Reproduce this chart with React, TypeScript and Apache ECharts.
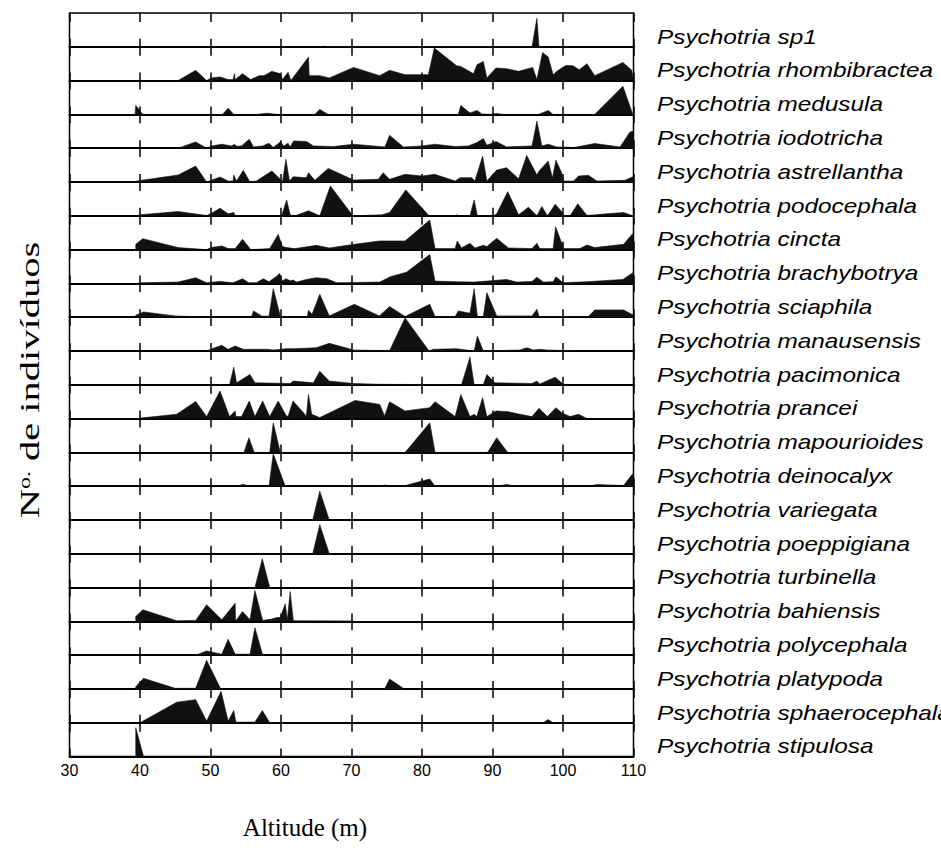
import React, { useEffect, useRef } from "react";
import * as echarts from "echarts";

// Altitude (m) vs number of individuals (relative silhouette height) per species
const species = [
  "Psychotria sp1",
  "Psychotria rhombibractea",
  "Psychotria medusula",
  "Psychotria iodotricha",
  "Psychotria astrellantha",
  "Psychotria podocephala",
  "Psychotria cincta",
  "Psychotria brachybotrya",
  "Psychotria sciaphila",
  "Psychotria manausensis",
  "Psychotria pacimonica",
  "Psychotria prancei",
  "Psychotria mapourioides",
  "Psychotria deinocalyx",
  "Psychotria variegata",
  "Psychotria poeppigiana",
  "Psychotria turbinella",
  "Psychotria bahiensis",
  "Psychotria polycephala",
  "Psychotria platypoda",
  "Psychotria sphaerocephala",
  "Psychotria stipulosa",
];

const xTicks = [30, 40, 50, 60, 70, 80, 90, 100, 110];

const sp1 = [[65.5, 0], [66.2, 0.6], [67, 0], [95.6, 0], [96.3, 28.7], [96.6, 0]];
const rhombibractea = [[45.4, 0], [47.9, 10.3], [49.45, 0], [50.1, 2.7], [51.35, 3.7], [52.5, 1], [53.2, 1], [53.4, 7], [53.5, 1], [54.55, 7], [55.7, 1], [56.9, 5], [57.6, 5], [58.7, 9.3], [59.9, 7], [60.2, 1], [61, 8.3], [61.4, 0], [63.9, 23.7], [64.0, 5], [65.5, 5], [66.85, 2.7], [70.3, 13.3], [74.0, 5], [75.4, 10.3], [77.6, 6], [80.9, 6], [81.75, 32.7], [84.9, 15], [85.5, 14.3], [87.3, 7], [87.8, 16], [88.7, 19.3], [89.2, 2.7], [90.5, 12.7], [92, 12], [93.7, 9.3], [95.7, 13.3], [96.3, 1], [97.1, 28.3], [97.9, 23.7], [98.6, 6], [99.3, 10.3], [100.4, 15.3], [101.4, 15], [102.3, 11], [103.4, 17], [104.5, 5], [108.5, 18.3], [109.75, 10.3], [110, 0]];
const medusula = [[39.3, 0], [39.4, 9], [40.4, 0], [51.7, 0], [52.5, 6.3], [53.3, 0], [56.5, 0], [58, 1.2], [59.5, 0], [64.8, 0], [65.5, 5], [66.7, 0], [85.15, 0], [85.5, 9], [86.8, 1.5], [87.8, 4], [88.5, 0.5], [89.5, 0], [90.5, 1], [91.5, 0], [96.5, 0], [97.9, 4], [98.6, 0], [104.5, 0], [108.5, 28.3], [109.9, 0]];
const iodotricha = [[45.4, 0], [47.9, 6.3], [49.45, 0], [50.2, 2.3], [51.6, 4], [53, 2.3], [53.4, 4], [53.7, 2], [54.4, 2.3], [55.5, 9], [56.1, 1.3], [57.4, 2.3], [58.3, 5], [58.9, 0.7], [59.9, 6.3], [60.4, 2.3], [61, 5], [61.3, 1.3], [61.8, 7.3], [63.6, 6.7], [64.6, 2.3], [67.4, 1.7], [70.3, 4], [73.1, 2.3], [74.75, 1.3], [75.4, 13], [77.35, 1.3], [80, 2.3], [81.8, 4], [84.7, 1.7], [86.6, 2.3], [87.8, 5.7], [88.7, 9.7], [89.2, 3], [90.5, 6.7], [92, 1.3], [95.6, 2.3], [96.3, 27.3], [97, 2.3], [97.9, 4], [99.1, 1.3], [101.5, 0.7], [104.5, 4.7], [108.1, 1.3], [109.5, 16.3], [110, 17]];
const astrellantha = [[39.4, 0], [39.5, 1], [45.4, 7], [47.9, 16], [49.45, 0], [51.35, 5], [52.5, 1], [53.2, 1], [53.3, 7], [53.7, 1], [54.65, 11.7], [55.6, 0], [56.5, 1], [58.7, 11], [59.9, 2.7], [60.2, 0], [60.7, 22.7], [61.2, 1], [61.75, 5.3], [63.6, 4.3], [63.9, 9.3], [64.8, 1.7], [66.7, 13.7], [70.3, 2], [73.8, 2.7], [74.5, 9.3], [75.4, 2.7], [77.6, 7.7], [80, 6], [81.8, 7.7], [84.7, 1], [85.4, 4.3], [87.05, 4.3], [87.5, 1], [88.6, 26], [89.2, 1], [90.6, 12], [92, 14.3], [93.7, 3.3], [94.85, 26.7], [96.3, 7], [96.6, 11], [97.9, 21], [98.5, 4.3], [99, 22], [99.8, 9.3], [100.1, 1], [101.5, 1], [102.2, 6], [103.6, 6.7], [104.8, 1], [108.8, 1.7], [109.9, 5.3], [110, 5.3]];
const podocephala = [[39.4, 0], [40, 1], [45.4, 4.3], [49.45, 0.3], [50.2, 2.7], [51.35, 7.7], [52.5, 2], [53.3, 3.3], [53.5, 0], [60.1, 0], [60.8, 16], [61.3, 1], [62, 0], [63.9, 5], [65.5, 0], [67, 30], [70.2, 0], [74.3, 1], [75.4, 3.3], [77.7, 26], [81, 0], [84.7, 0], [84.9, 1], [85.3, 0], [86.8, 0], [87.4, 16], [87.85, 0], [90.1, 0], [90.6, 2], [92.15, 24.3], [93.7, 1], [95.1, 8.7], [96.3, 0], [97, 9.3], [97.8, 0], [98.9, 11.7], [99.8, 4.3], [100.05, 0], [101, 0], [102.1, 12], [103.4, 0.3], [106.2, 2], [108.6, 3.3], [109.9, 0]];
const cincta = [[39.4, 0], [39.4, 5.3], [40.4, 11], [45.4, 2], [49.45, 0], [50.07, 2], [51.6, 3.7], [52.5, 1], [53.5, 1], [54.55, 10.3], [55.7, 0], [58.4, 1], [59.6, 15.3], [60.2, 3], [60.8, 2], [62, 1], [65, 4.3], [66.85, 1.7], [70.4, 5.3], [74, 8.7], [77.6, 8.7], [81.1, 29.7], [81.85, 1], [84.7, 1], [85, 8.7], [85.6, 1.7], [86.8, 6.3], [87.5, 1.7], [88.7, 4.3], [89.2, 3], [90.6, 11.3], [92.25, 1.7], [95.6, 1], [96.3, 6.3], [96.7, 1], [98.6, 1], [98.95, 23], [100.1, 1], [102.4, 1], [103.4, 4.7], [104.5, 2], [108.6, 5.3], [109.9, 16.3], [110, 16.3]];
const brachybotrya = [[39.5, 0], [40, 0.7], [45.4, 1.3], [47.9, 5.7], [49.45, 0.7], [51.35, 2], [53.2, 0.7], [54.55, 4.7], [55.4, 0.7], [56.5, 0.7], [57.5, 4.7], [58.3, 1.7], [59.3, 6.7], [59.8, 10], [60.2, 2.3], [60.7, 4.7], [61.3, 2.7], [61.75, 3.3], [62.2, 1.3], [63.6, 4], [65, 5.7], [66.5, 4.7], [67.9, 0.7], [74, 1.3], [75.5, 6.7], [77.8, 11.3], [81.1, 29], [81.85, 2.3], [84.9, 1.7], [87.3, 1.3], [89.2, 2.3], [92, 4], [93.4, 1.3], [95.6, 2], [96.3, 6.3], [97.2, 1.3], [98.6, 1.7], [99, 6.7], [100, 0.7], [103.4, 1.7], [108.5, 4], [109.9, 10.7], [110, 10.7]];
const sciaphila = [[39.4, 0], [39.4, 2], [40.5, 5.3], [45, 1.3], [49.45, 0], [55.8, 0], [56.1, 6.3], [57.3, 1], [58.3, 1], [58.9, 28.7], [59.9, 1.3], [60.2, 0], [63.7, 0], [63.9, 7], [64.4, 3], [65.5, 23], [66.85, 1.3], [70.4, 13], [73.95, 1.3], [75.4, 10.7], [77.6, 0.7], [81.1, 13], [81.85, 0.7], [84.7, 0.7], [85.15, 6.3], [86.8, 4], [87.4, 28.7], [87.85, 0.7], [88.7, 0.7], [89.2, 24.7], [90.6, 1.3], [95.6, 1.3], [96.3, 8], [96.6, 0.7], [103.6, 0.7], [104.5, 7.3], [108.6, 7.3], [110, 2]];
const manausensis = [[49.45, 0], [50.2, 2.3], [51.6, 5.7], [52.5, 1.7], [53.5, 5], [54.65, 1.7], [58, 1.7], [58.9, 1], [60.8, 2.3], [61.75, 2.3], [65, 3.3], [66.85, 7.7], [70.3, 1], [75.4, 0.3], [77.6, 33.3], [81, 0], [81.6, 1.7], [84.9, 2.3], [87.4, 0], [87.85, 15], [88.7, 0], [93.9, 1], [94.85, 3.3], [95.8, 1], [96.7, 1.7], [97.7, 1], [101.5, 0.3]];
const pacimonica = [[52.7, 0], [53.3, 17.7], [53.7, 2], [55.6, 10.3], [56.3, 2], [61.3, 1.3], [61.75, 3.7], [64.6, 2], [65.5, 13.7], [66.85, 3.7], [70.3, 1.3], [74, 0.5], [85.6, 0], [86.8, 27.7], [87.4, 0], [88.7, 0], [89.2, 10.3], [90.35, 2], [95.6, 1.3], [96.3, 3.7], [96.7, 0.7], [98.9, 7.7], [100, 0.7]];
const prancei = [[40, 0.5], [45.2, 4.3], [47.9, 17.3], [49.45, 2], [51.35, 27.7], [52.7, 2], [53.5, 7.7], [53.6, 2], [54.4, 2], [55.5, 17.7], [56.3, 2], [57.4, 17.7], [58.4, 2], [59.6, 17.7], [60.7, 3.3], [61, 2], [61.7, 17.7], [63.6, 2.7], [63.9, 24.3], [64.35, 4.3], [65.5, 1], [70.5, 18.3], [74, 14.3], [74.7, 2.7], [75.4, 17], [77.6, 7.7], [81.1, 11], [81.85, 17], [84.7, 2], [85.5, 24.3], [86.8, 2], [87.4, 4.3], [87.76, 2], [88.6, 21], [89.2, 2], [90.5, 7.7], [92.25, 7], [93.9, 4.3], [95.6, 2], [96.6, 10.3], [97.8, 2], [99, 11], [99.8, 6], [101, 2], [102.2, 4.3], [103.4, 0]];
const mapourioides = [[54.75, 0], [55.45, 14.7], [56.2, 0], [58.4, 0], [58.9, 29.7], [59.9, 0], [77.6, 0], [81.1, 29.7], [81.85, 0], [89.3, 0], [90.6, 14.7], [92.15, 0]];
const deinocalyx = [[53.7, 0], [54.65, 2], [55.4, 0], [58.3, 0], [58.9, 32.7], [60.6, 0], [74, 0], [74.7, 1.3], [75.4, 0], [77.6, 0.7], [81.1, 7.3], [81.85, 0], [90.6, 0], [92, 1.7], [93.4, 0], [103.6, 0], [104.8, 1.7], [108.6, 0.7], [109.9, 12.7], [110, 12.7]];
const variegata = [[64.5, 0], [65.5, 29], [66.85, 0]];
const poeppigiana = [[64.5, 0], [65.5, 29.3], [66.85, 0]];
const turbinella = [[56.3, 0], [57.35, 29], [58.4, 0]];
const bahiensis = [[39.4, 0], [39.4, 5], [40.4, 11.7], [45.2, 0.7], [47.9, 1], [49.45, 16.7], [51.6, 1.7], [53.5, 18.3], [53.55, 1], [53.7, 1.7], [54.55, 10], [55.6, 1.7], [56.3, 31], [57.4, 1], [58.7, 2.3], [59.4, 4], [59.9, 4], [60.6, 17.7], [60.9, 1.7], [61.3, 30], [61.75, 0.7], [70.3, 0.5]];
const polycephala = [[48, 0.3], [49.45, 4.3], [51.6, 1], [52.5, 16], [53.5, 1], [55.6, 1], [56.3, 27.7], [57.4, 0.3]];
const platypoda = [[39.4, 0], [39.4, 2.3], [40.5, 10.7], [45, 0.7], [47.9, 0.7], [49.45, 29], [51.45, 0], [74.7, 0], [75.4, 10], [77.35, 0.7]];
const sphaerocephala = [[40, 0], [45.2, 20.7], [47.9, 23.3], [49.45, 1.7], [51.5, 31.7], [52.5, 1.7], [53.3, 12.3], [53.6, 0.7], [56.3, 0.7], [57.35, 12.3], [58.4, 0], [97.2, 0], [97.9, 3.3], [98.6, 0]];
const stipulosa = [[39.4, 0], [39.4, 29], [40.5, 0]];

const seriesData = [
  sp1, rhombibractea, medusula, iodotricha, astrellantha, podocephala, cincta,
  brachybotrya, sciaphila, manausensis, pacimonica, prancei, mapourioides,
  deinocalyx, variegata, poeppigiana, turbinella, bahiensis, polycephala,
  platypoda, sphaerocephala, stipulosa,
];

const Y_MAX = 34;

export default function App() {
  const ref = useRef<HTMLDivElement>(null);
  useEffect(() => {
    document.body.style.margin = "0";
    if (!ref.current) return;
    const chart = echarts.init(ref.current, null, { renderer: "svg" });
    const LEFT = 69.5;
    const TOP = 13;
    const W = 564;
    const ROW = 33.8;
    const n = species.length;
    const serif = '"Liberation Serif", "Times New Roman", serif';

    const grids: any[] = species.map((_, i) => ({
      left: LEFT, top: TOP + i * ROW, width: W, height: ROW,
    }));
    grids.push({
      left: LEFT, top: TOP, width: W, height: ROW * n, show: true,
      borderColor: "#000", borderWidth: 1.5, backgroundColor: "transparent",
    });

    const xAxes: any[] = species.map((_, i) => ({
      gridIndex: i, type: "value", min: 30, max: 110,
      axisLine: { show: true, onZero: false, lineStyle: { color: "#000", width: 2 } },
      axisTick: { show: false }, axisLabel: { show: false }, splitLine: { show: false },
    }));
    xAxes.push({
      gridIndex: n, type: "value", min: 30, max: 110, interval: 10,
      axisLine: { show: false }, axisTick: { show: false },
      axisLabel: {
        show: true, color: "#000", fontSize: 16, margin: 6,
        fontFamily: '"Liberation Sans", Arial, sans-serif',
        formatter: (v: number) => (xTicks.includes(v) ? String(v) : ""),
      },
      splitLine: {
        show: true,
        lineStyle: { color: "#000", width: 1.5, type: [ROW / 2, ROW / 2], dashOffset: ROW / 4 },
      },
    });

    const yAxes: any[] = species.map((_, i) => ({
      gridIndex: i, type: "value", min: 0, max: Y_MAX, show: false,
    }));
    yAxes.push({ gridIndex: n, type: "value", min: 0, max: 1, show: false });

    const series: any[] = seriesData.map((d, i) => ({
      type: "line", name: species[i], xAxisIndex: i, yAxisIndex: i, data: d,
      symbol: "none", silent: true,
      lineStyle: { color: "#111", width: 0.6 },
      areaStyle: { color: "#111", opacity: 1 },
    }));

    const graphic: any[] = species.map((s, i) => ({
      type: "text", x: 657, y: TOP + (i + 1) * ROW - 10.5, scaleX: 1.16,
      style: {
        text: s, fill: "#000", align: "left", verticalAlign: "middle",
        font: 'italic 21px "Liberation Sans", Arial, sans-serif',
      },
    }));
    graphic.push({
      type: "text", x: 305, y: 827,
      style: {
        text: "Altitude (m)", fill: "#000", align: "center", verticalAlign: "middle",
        font: "25px " + serif,
      },
    });
    graphic.push({
      type: "text", x: 30, y: 380, rotation: Math.PI / 2, scaleX: 1.5,
      style: {
        text: "{n|N}{s|o.}{n| de indivíduos}", fill: "#000", align: "center", verticalAlign: "middle",
        rich: {
          n: { fontSize: 27, fontFamily: serif, fill: "#000" },
          s: { fontSize: 16, fontFamily: serif, fill: "#000", verticalAlign: "top" },
        },
      },
    });

    chart.setOption({
      animation: false,
      backgroundColor: "#fff",
      grid: grids, xAxis: xAxes, yAxis: yAxes, series, graphic,
    });
    return () => chart.dispose();
  }, []);
  return <div ref={ref} style={{ width: 941, height: 860 }} />;
}
